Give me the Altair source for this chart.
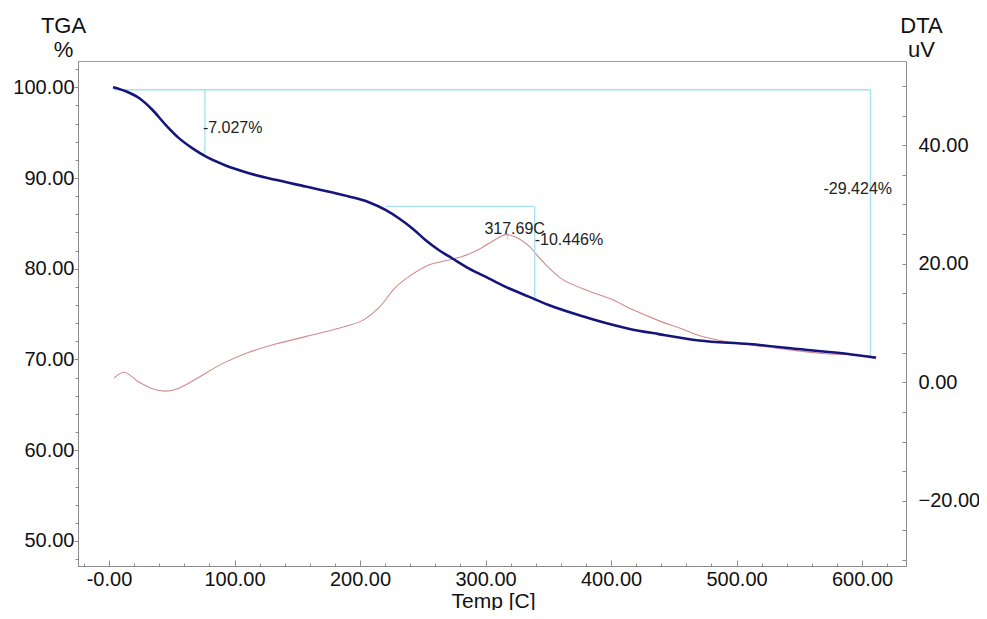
import altair as alt
import pandas as pd

# ---------------- data ----------------
temp_tga = [3.2, 13.3, 23.9, 34.5, 45.1, 55.7, 66.3, 77, 92.9, 111.5, 132.7, 156.6, 180.5,
            191.1, 207, 220.3, 230.9, 241.5, 252.1, 262.7, 273.3, 286.6, 302.5, 318.5, 334.4,
            350.3, 374, 414, 438, 470, 510, 549, 589, 611]
tga = [100.0, 99.56, 98.82, 97.53, 95.87, 94.4, 93.3, 92.38, 91.39, 90.54, 89.8, 89.07, 88.33,
       87.97, 87.34, 86.49, 85.57, 84.47, 83.18, 82.07, 81.16, 80.05, 78.95, 77.85, 76.93,
       76.0, 74.9, 73.4, 72.8, 72.1, 71.7, 71.15, 70.6, 70.2]

temp_dta = [4, 12, 24, 34.5, 45, 55.7, 71.7, 90, 111.5, 132.7, 156.6, 180.5, 201.7, 215, 228.3,
            241.5, 254.8, 268, 281.3, 294.6, 307.9, 315.8, 323.8, 334.4, 345, 361, 382, 400.7,
            416.6, 437.9, 456.5, 470, 496, 522.8, 549, 570.6, 591.8, 611.7]
dta = [0.7, 1.7, 0.0, -1.1, -1.5, -1.0, 0.85, 3.1, 5.05, 6.45, 7.7, 9.0, 10.4, 12.6, 16.0,
       18.2, 19.8, 20.5, 21.2, 22.4, 24.1, 24.9, 24.5, 23.0, 20.5, 17.4, 15.4, 14.0,
       12.3, 10.4, 9.0, 7.9, 6.7, 6.0, 5.3, 4.8, 4.65, 4.3]

# step (mass-loss) markers, TGA units
step_x1 = [4, 76.4, 220.5, 339.2, 606.7]
step_y1 = [99.73, 99.73, 86.87, 86.87, 99.73]
step_x2 = [606.7, 76.4, 339.2, 339.2, 606.7]
step_y2 = [99.73, 92.70, 86.87, 76.42, 70.31]

ann_text = ["-7.027%", "-10.446%", "-29.424%"]
ann_x = [74.8, 339.2, 569.3]
ann_y = [95.5, 83.15, 88.77]

peak_label = ["317.69C"]
peak_label_x = [323.2]
peak_label_y = [84.36]
peak_t = [317.69]
peak_v = [24.6]

x_major = [0, 100, 200, 300, 400, 500, 600]
x_minor = list(range(-20, 640, 20))
yl_major = [50, 60, 70, 80, 90, 100]
yl_minor = list(range(48, 104, 2))
yr_major = [-20, 0, 20, 40]
yr_minor = list(range(-30, 55, 5))

FONT = "Liberation Sans"
W, H = 828, 505

df_tga = pd.DataFrame({"T": temp_tga, "v": tga})
df_dta = pd.DataFrame({"T": temp_dta, "v": dta})
df_steps = pd.DataFrame({"x1": step_x1, "y1": step_y1, "x2": step_x2, "y2": step_y2})
df_ann = pd.DataFrame({"x": ann_x, "y": ann_y, "label": ann_text})
df_peak_label = pd.DataFrame({"x": peak_label_x, "y": peak_label_y, "label": peak_label})
df_peak = pd.DataFrame({"T": peak_t, "v": peak_v})

xscale = alt.Scale(domain=[-24.7, 635], nice=False, zero=False)
ylscale = alt.Scale(domain=[47.24, 102.9], nice=False, zero=False)
yrscale = alt.Scale(domain=[-31.0, 54.2], nice=False, zero=False)

# bottom axis: labels + title (ticks drawn by an inward tick-only axis)
x_label_axis = alt.Axis(values=x_major, orient="bottom", ticks=False, tickSize=0,
                        labelPadding=3,
                        labelExpr="datum.value == 0 ? '-0.00' : format(datum.value, '.2f')",
                        title="Temp  [C]", titleFontSize=21, titleX=415, titleY=41,
                        titleAlign="center", titleBaseline="alphabetic")
# inward ticks at the bottom edge: a top-oriented axis moved down onto the bottom edge
x_tick_axis = alt.Axis(values=x_minor, orient="top", offset=-H, labels=False, domain=False,
                       title=None,
                       tickSize={"condition": {"test": "datum.value % 100 === 0", "value": 6},
                                 "value": 3})
yl_major_axis = alt.Axis(values=yl_major, orient="left", format=".2f", tickSize=4,
                         labelPadding=0, title=["TGA", "%"], titleAngle=0, titleX=-15,
                         titleY=-29, titleAlign="center", titleBaseline="alphabetic",
                         titleLineHeight=24)
yl_minor_axis = alt.Axis(values=yl_minor, orient="left", tickSize=3, labels=False,
                         domain=False, title=None)
yr_label_axis = alt.Axis(values=yr_major, orient="right", format=".2f", ticks=False,
                         tickSize=0, labelPadding=12, title=["DTA", "uV"], titleAngle=0,
                         titleX=15, titleY=-29, titleAlign="center",
                         titleBaseline="alphabetic", titleLineHeight=24)
# inward ticks at the right edge: a left-oriented axis moved onto the right edge
yr_tick_axis = alt.Axis(values=yr_minor, orient="left", offset=-W, tickSize=4, labels=False,
                        domain=False, title=None)

# ---------------- TGA group ----------------
rules = alt.Chart(df_steps).mark_rule(color="#a3e3ee", strokeWidth=1.3).encode(
    x=alt.X("x1:Q", scale=xscale, axis=x_tick_axis),
    x2="x2:Q",
    y=alt.Y("y1:Q", scale=ylscale, axis=yl_minor_axis),
    y2="y2:Q",
)
tga_line = alt.Chart(df_tga).mark_line(color="#15157c", strokeWidth=2.6,
                                       interpolate="monotone").encode(
    x=alt.X("T:Q", scale=xscale, axis=x_label_axis),
    y=alt.Y("v:Q", scale=ylscale, axis=yl_major_axis),
)
ann = alt.Chart(df_ann).mark_text(align="left", baseline="middle", fontSize=16, font=FONT,
                                  color="#222222").encode(
    x=alt.X("x:Q", scale=xscale, axis=None),
    y=alt.Y("y:Q", scale=ylscale, axis=None),
    text="label:N",
)
peak_txt = alt.Chart(df_peak_label).mark_text(align="center", baseline="middle", fontSize=16,
                                              font=FONT, color="#222222").encode(
    x=alt.X("x:Q", scale=xscale, axis=None),
    y=alt.Y("y:Q", scale=ylscale, axis=None),
    text="label:N",
)
tga_group = alt.layer(rules, tga_line, ann, peak_txt).resolve_axis(x="independent",
                                                                  y="independent")

# ---------------- DTA group ----------------
dta_line = alt.Chart(df_dta).mark_line(color="#d48a8a", strokeWidth=1.1,
                                       interpolate="catmull-rom").encode(
    x=alt.X("T:Q", scale=xscale, axis=None),
    y=alt.Y("v:Q", scale=yrscale, axis=yr_label_axis),
)
peak_tick = alt.Chart(df_peak).mark_tick(orient="vertical", size=6, thickness=1,
                                         color="#b0b0b0").encode(
    x=alt.X("T:Q", scale=xscale, axis=None),
    y=alt.Y("v:Q", scale=yrscale, axis=yr_tick_axis),
)
dta_group = alt.layer(dta_line, peak_tick).resolve_axis(y="independent")

chart = (
    alt.layer(dta_group, tga_group)
    .resolve_scale(y="independent")
    .resolve_axis(x="independent", y="independent")
    .properties(width=W, height=H,
                autosize=alt.AutoSizeParams(type="none"),
                padding={"left": 70, "top": 53, "right": 73, "bottom": 44})
    .configure_view(stroke="#9a9a9a", strokeWidth=1)
    .configure_axis(grid=False, labelFont=FONT, titleFont=FONT, labelFontSize=20,
                    titleFontSize=22, titleFontWeight="normal", labelColor="#111111",
                    titleColor="#111111", domainColor="#8c8c8c", tickColor="#8c8c8c")
)

chart.save("out.html", embed_options={"renderer": "svg", "actions": False})
